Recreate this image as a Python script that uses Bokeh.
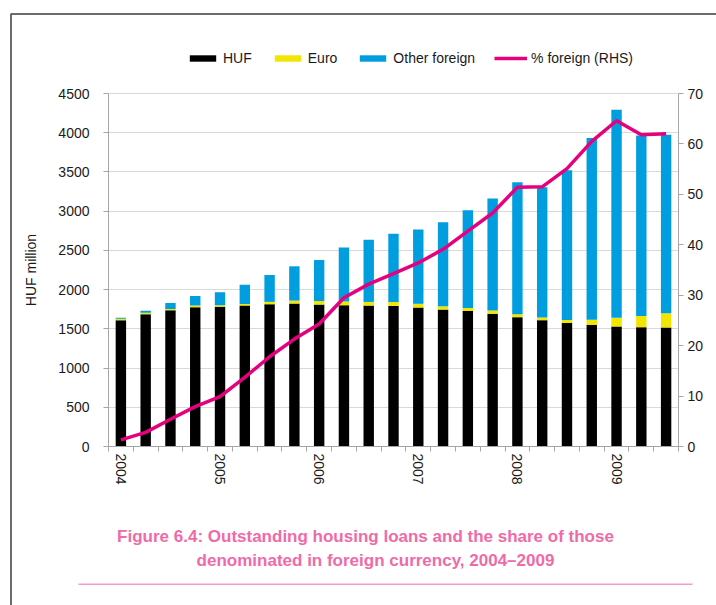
import math
from bokeh.plotting import figure
from bokeh.models import (Range1d, LinearAxis, FixedTicker, Legend, LegendItem,
                          ColumnDataSource, Label, BoxAnnotation)
from bokeh.embed import file_html
from bokeh.resources import INLINE

# ---- data (quarterly, 2004Q1 - 2009Q3) ----
quarters = ["2004Q1", "2004Q2", "2004Q3", "2004Q4",
            "2005Q1", "2005Q2", "2005Q3", "2005Q4",
            "2006Q1", "2006Q2", "2006Q3", "2006Q4",
            "2007Q1", "2007Q2", "2007Q3", "2007Q4",
            "2008Q1", "2008Q2", "2008Q3", "2008Q4",
            "2009Q1", "2009Q2", "2009Q3"]
huf = [1610, 1687, 1737, 1775, 1780, 1796, 1814, 1822, 1809, 1801, 1796, 1792,
       1771, 1745, 1729, 1691, 1649, 1611, 1576, 1551, 1530, 1521, 1517]
euro = [20, 17, 17, 21, 21, 21, 30, 38, 45, 48, 47, 50,
        48, 42, 38, 42, 38, 34, 38, 64, 110, 144, 182]
other_foreign = [10, 25, 76, 123, 165, 246, 342, 437, 523, 689, 792, 869,
                 948, 1073, 1246, 1428, 1682, 1660, 1907, 2317, 2653, 2301, 2276]
pct_foreign = [1.3, 2.8, 5.4, 7.9, 9.9, 13.7, 17.8, 21.3, 24.3, 29.5, 32.2, 34.3,
               36.4, 39.1, 42.7, 46.3, 51.4, 51.5, 55.1, 60.5, 64.6, 61.8, 62.0]
year_labels = ["2004", "2005", "2006", "2007", "2008", "2009"]
left_max, right_max = 4500, 70

FONT = "'Liberation Sans', Arial, sans-serif"
TXT = "#1a1a1a"
AX = "#a6a6a6"

# ---- layout (pixels on the canvas) ----
W, H = 716, 605
FL, FR, FT, FB = 108, 678, 93, 446   # plot area edges

n = len(quarters)
x0, x1 = -0.5, n - 0.5
sx = (FR - FL) / (x1 - x0)
sy = (FB - FT) / left_max
sp = (FB - FT) / right_max

idx = list(range(n))
src = ColumnDataSource(dict(x=idx, huf=huf, euro=euro, other=other_foreign, pct=pct_foreign))

p = figure(width=W, height=H,
           x_range=Range1d(x0 - FL / sx, x1 + (W - FR) / sx),
           y_range=Range1d(-(H - FB) / sy, left_max + FT / sy),
           output_backend="svg", toolbar_location=None,
           min_border=0, min_border_left=0, min_border_right=0,
           min_border_top=0, min_border_bottom=0)
p.title.visible = False
p.outline_line_color = None
p.background_fill_color = "white"
p.border_fill_color = "white"

p.extra_y_ranges = {"pct": Range1d(-(H - FB) / sp, right_max + FT / sp)}

stack = p.vbar_stack(["huf", "euro", "other"], x="x", width=0.42, source=src,
                     color=["#000000", "#F2E600", "#009EDF"], line_color=None)
ln = p.line("x", "pct", source=src, y_range_name="pct", line_color="#E6007E",
            line_width=3.5, line_join="round")

# left axis
ya = p.yaxis[0]
ya.fixed_location = x0
ya.bounds = (0, left_max)
ya.ticker = FixedTicker(ticks=list(range(0, left_max + 1, 500)))
ya.axis_label = "HUF million"
ya.axis_label_text_font = FONT
ya.axis_label_text_font_size = "14px"
ya.axis_label_text_font_style = "normal"
ya.axis_label_text_color = TXT
ya.axis_label_standoff = 16
ya.major_label_text_font = FONT
ya.major_label_text_font_size = "14px"
ya.major_label_text_color = TXT
ya.major_label_standoff = 14
ya.axis_line_color = AX
ya.major_tick_line_color = AX
ya.major_tick_out = 5
ya.major_tick_in = 0
ya.minor_tick_line_color = None

# right axis
ra = LinearAxis(y_range_name="pct", ticker=FixedTicker(ticks=list(range(0, right_max + 1, 10))),
                fixed_location=x1, bounds=(0, right_max))
ra.major_label_text_font = FONT
ra.major_label_text_font_size = "14px"
ra.major_label_text_color = TXT
ra.major_label_standoff = 4
ra.axis_line_color = AX
ra.major_tick_line_color = AX
ra.major_tick_out = 5
ra.major_tick_in = 0
ra.minor_tick_line_color = None
p.add_layout(ra, "right")

# bottom axis
xa = p.xaxis[0]
xa.fixed_location = 0
xa.bounds = (x0, x1)
major = [i * 4 for i in range(len(year_labels))]
xa.ticker = FixedTicker(ticks=major, minor_ticks=[i - 0.5 for i in range(n + 1)])
xa.major_label_overrides = {m: lab for m, lab in zip(major, year_labels)}
xa.major_label_orientation = -math.pi / 2
xa.major_label_text_font = FONT
xa.major_label_text_font_size = "14px"
xa.major_label_text_color = TXT
xa.major_label_standoff = 2
xa.axis_line_color = AX
xa.major_tick_line_color = None
xa.major_tick_out = 0
xa.major_tick_in = 0
xa.minor_tick_line_color = AX
xa.minor_tick_out = 5
xa.minor_tick_in = 0

p.xgrid.grid_line_color = None
p.ygrid.grid_line_color = "#d9d9d9"
p.ygrid.ticker = FixedTicker(ticks=list(range(500, left_max + 1, 500)))
p.ygrid.cross_bounds = (x0, x1)

legend = Legend(items=[LegendItem(label="HUF", renderers=[stack[0]]),
                       LegendItem(label="Euro", renderers=[stack[1]]),
                       LegendItem(label="Other foreign", renderers=[stack[2]]),
                       LegendItem(label="% foreign (RHS)", renderers=[ln])],
                orientation="horizontal", location=(186, H - 68), glyph_width=33,
                glyph_height=8, label_standoff=4, spacing=19, padding=2, margin=0,
                label_height=20, border_line_color=None, background_fill_alpha=0,
                label_text_font=FONT, label_text_font_size="14px",
                label_text_color=TXT)
p.add_layout(legend)

CAP = "#EF6BA8"
cap1 = Label(x=365, y=H - 536, x_units="screen", y_units="screen",
             text="Figure 6.4: Outstanding housing loans and the share of those",
             text_align="center", text_baseline="middle", text_font=FONT,
             text_font_size="17px", text_font_style="bold", text_color=CAP)
cap2 = Label(x=375, y=H - 560, x_units="screen", y_units="screen",
             text="denominated in foreign currency, 2004\u20132009",
             text_align="center", text_baseline="middle", text_font=FONT,
             text_font_size="17px", text_font_style="bold", text_color=CAP)
p.add_layout(cap1)
p.add_layout(cap2)

rule = BoxAnnotation(left=78, right=692, top=H - 583, bottom=H - 584.5, left_units="screen",
                     right_units="screen", top_units="screen", bottom_units="screen",
                     fill_color="#F59BC9", fill_alpha=1, line_color=None)
frame = BoxAnnotation(left=10.5, right=W + 50, top=H - 13.5, bottom=-50, left_units="screen",
                      right_units="screen", top_units="screen", bottom_units="screen",
                      fill_alpha=0, line_color="#6b6b6b", line_alpha=1, line_width=2)
p.add_layout(rule)
p.add_layout(frame)

open("out.html", "w").write(file_html(p, INLINE))
